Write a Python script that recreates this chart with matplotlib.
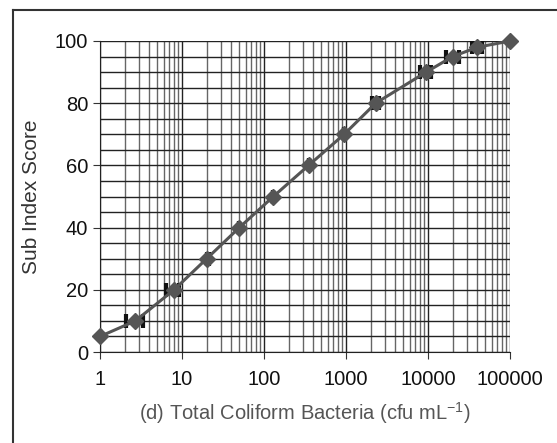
import numpy as np
import matplotlib.pyplot as plt
from matplotlib.lines import Line2D
from matplotlib.ticker import FixedLocator, LogLocator, NullFormatter

plt.rcParams["font.family"] = ["Liberation Sans", "DejaVu Sans"]
plt.rcParams["mathtext.fontset"] = "custom"
plt.rcParams["mathtext.rm"] = "Liberation Sans"

# values
coliform = [1, 2.7, 8, 20, 50, 130, 350, 950, 2300, 9500, 20000, 40000, 100000]
score = [5, 10, 20, 30, 40, 50, 60, 70, 80, 90, 95, 98, 100]
err_lo = [0, 0.6, 1.7, 0, 0, 0, 0, 0, 200, 1500, 3500, 6000, 0]
err_hi = [0, 0.6, 1.3, 1.5, 0, 0, 0, 0, 250, 1500, 4000, 6000, 0]
yticks = [0, 20, 40, 60, 80, 100]
xticks = [1, 10, 100, 1000, 10000, 100000]
xticklabels = ["1", "10", "100", "1000", "10000", "100000"]

fig = plt.figure(figsize=(5.57, 4.43), dpi=100)
ax = fig.add_axes([100 / 557, 91 / 443, 410 / 557, 311 / 443])

ax.set_xscale("log")
ax.set_xlim(1, 100000)
ax.set_ylim(0, 100)

ax.xaxis.set_major_locator(FixedLocator(xticks))
ax.xaxis.set_minor_locator(LogLocator(base=10, subs=np.arange(2, 10)))
ax.xaxis.set_minor_formatter(NullFormatter())
ax.set_xticklabels(xticklabels)
ax.set_yticks(yticks)
ax.yaxis.set_minor_locator(FixedLocator(np.arange(0, 101, 5)))

ax.grid(True, which="major", color="#222222", lw=1.0)
ax.grid(True, which="minor", axis="x", color="#666666", lw=1.0)
ax.grid(True, which="minor", axis="y", color="#222222", lw=1.0)
ax.set_axisbelow(True)

for side in ["top", "right"]:
    ax.spines[side].set_visible(False)
ax.spines["left"].set_color("#222222")
ax.spines["bottom"].set_color("#222222")

ax.tick_params(axis="both", which="major", labelsize=14.5, length=5, color="#333333",
               labelcolor="#111111")
ax.tick_params(axis="both", which="minor", length=0)
ax.tick_params(axis="x", pad=8)

ax.errorbar(coliform, score, xerr=[err_lo, err_hi], fmt="none", ecolor="#111111",
            elinewidth=1.2, capsize=5, capthick=3, zorder=3)
ax.plot(coliform, score, color="#555555", lw=2.2, marker="D", markersize=8.5,
        markerfacecolor="#555555", markeredgecolor="#555555", zorder=4, clip_on=False)

ax.set_ylabel("Sub Index Score", fontsize=15, color="#333333", labelpad=10)
ax.set_xlabel("(d) Total Coliform Bacteria (cfu mL$^{-1}$)", fontsize=14.5,
              color="#555555", labelpad=8)

# outer frame
fig.add_artist(Line2D([13 / 557, 13 / 557], [0, 1 - 10 / 443], color="#333333", lw=1.5))
fig.add_artist(Line2D([13 / 557, 1], [1 - 10 / 443, 1 - 10 / 443], color="#333333", lw=1.5))

fig.savefig("out.png", dpi=100)
